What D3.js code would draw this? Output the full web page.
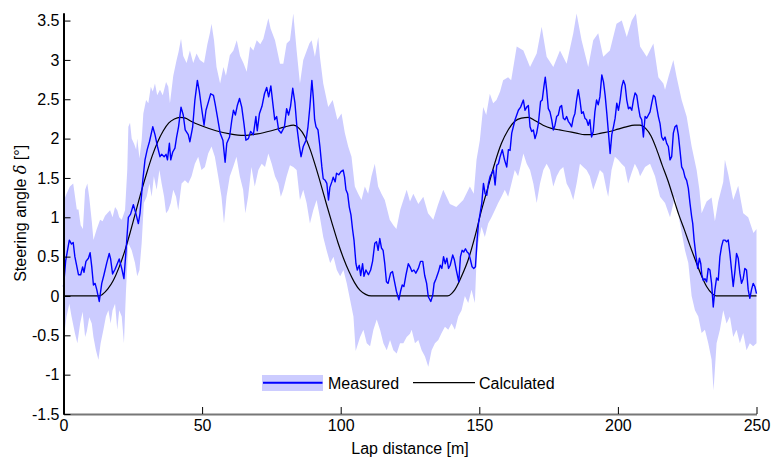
<!DOCTYPE html>
<html>
<head>
<meta charset="utf-8">
<script src="https://cdn.jsdelivr.net/npm/d3@7"></script>
<style>
  body { margin: 0; background: #fff; }
  svg text { font-family: "Liberation Sans", Arial, sans-serif; font-size: 16px; fill: #000; }
</style>
</head>
<body>
<div class="chart"></div>
<script>
// lap distance [m], steering angle [deg]
var measured = [[0,0.12],[0.8,0.45],[2.1,0.71],[2.9,0.66],[3.5,0.68],[4.1,0.5],[5.4,0.27],[6.2,0.27],[6.9,0.37],[7.4,0.3],
  [8.1,0.44],[9,0.48],[9.6,0.55],[10.2,0.37],[10.8,0.14],[11.4,0.16],[12,0.08],[12.9,-0.07],[13.8,0.16],[14.6,0.27],
  [15.6,0.42],[16.5,0.54],[17,0.47],[17.7,0.28],[18.6,0.34],[20.1,0.47],[21,0.35],[21.8,0.22],[22.5,0.55],[23.4,1.0],
  [24.2,1.04],[25.2,1.16],[26.1,1.05],[27,0.92],[27.6,1.05],[28.6,1.47],[29.4,1.73],[30.2,1.86],[31,1.96],[32.2,2.15],
  [33,2.05],[33.9,1.9],[34.8,1.77],[35.4,1.8],[36.3,1.77],[37,1.8],[37.5,1.73],[38.2,1.94],[38.7,1.73],[39.4,1.83],
  [40.2,1.88],[40.8,2.02],[41.5,2.15],[42.4,2.4],[43.2,2.3],[43.9,2.11],[45,2.05],[45.6,1.96],[46.6,2.15],[47.4,2.49],
  [48.3,2.74],[49,2.6],[49.6,2.44],[50.7,2.17],[51.4,2.36],[52.3,2.47],[53.1,2.57],[54.1,2.55],[54.7,2.44],[55.5,2.28],
  [56.5,2.07],[57.5,1.98],[58.3,1.7],[58.9,1.94],[59.9,2.02],[60.7,2.23],[61.3,2.36],[62,2.3],[62.7,2.42],[63.5,2.51],
  [64.3,2.4],[65.1,2.19],[65.8,1.98],[66.7,2.0],[67.5,2.09],[68.5,2.05],[69.4,2.28],[69.9,2.1],[70.7,2.32],[71.6,2.41],
  [72.5,2.57],[73.3,2.65],[74,2.53],[74.8,2.67],[75.5,2.45],[76.2,2.24],[76.9,2.28],[77.6,2.11],[78.5,2.07],[79.7,2.15],
  [80.5,2.38],[81.2,2.3],[81.9,2.41],[82.7,2.64],[83.5,2.45],[84.2,2.15],[85.1,1.9],[85.7,1.77],[86.5,1.9],[87.5,1.98],
  [88.2,2.15],[88.9,2.41],[89.6,2.74],[90.1,2.53],[90.6,2.24],[91.1,2.15],[91.8,2.11],[92.5,1.9],[93.2,1.64],[93.7,1.49],
  [94.4,1.47],[95,1.43],[95.6,1.22],[96.1,1.38],[96.8,1.45],[97.3,1.51],[98,1.45],[98.5,1.56],[99.3,1.54],[100.1,1.58],
  [100.9,1.6],[101.4,1.51],[101.9,1.35],[102.5,1.3],[103.1,1.13],[103.7,1.03],[104.3,0.84],[104.8,0.71],[105.5,0.41],[106,0.33],
  [106.7,0.39],[107.2,0.26],[107.9,0.41],[108.4,0.25],[109.1,0.33],[110,0.27],[110.8,0.33],[111.5,0.44],[112.3,0.67],[112.9,0.69],
  [113.5,0.58],[114.1,0.73],[114.7,0.61],[115.3,0.58],[115.9,0.41],[116.5,0.18],[117.1,0.16],[118,0.29],[118.7,0.31],[119.3,0.2],
  [120.1,0.06],[121,-0.05],[121.6,0.06],[122.2,0.14],[122.8,0.12],[123.5,0.26],[124.4,0.41],[125,0.37],[125.7,0.31],[126.4,0.33],
  [127.1,0.29],[128,0.35],[128.8,0.44],[129.6,0.44],[130.3,0.26],[131,0.16],[131.6,-0.01],[132.5,-0.07],[133.2,0.01],[133.7,0.16],
  [134.4,0.22],[135.3,0.31],[135.9,0.39],[136.5,0.35],[137.1,0.5],[137.7,0.41],[138.3,0.48],[138.9,0.35],[139.5,0.39],[140.4,0.52],
  [141,0.46],[141.7,0.33],[142.6,0.18],[143.2,0.5],[143.8,0.58],[144.4,0.56],[145,0.6],[145.6,0.56],[146.2,0.54],[146.8,0.46],
  [147.4,0.37],[148,0.35],[148.6,0.37],[149.2,0.71],[149.7,0.92],[150.3,1.05],[150.9,1.18],[151.5,1.43],[152.1,1.3],[152.7,1.28],
  [153.3,1.43],[153.9,1.52],[154.5,1.56],[155.1,1.6],[155.7,1.41],[156.3,1.66],[156.9,1.68],[157.5,1.77],[158.3,1.86],[159.1,1.73],
  [159.9,1.64],[160.5,1.86],[161.1,1.85],[161.7,2.07],[162.9,2.24],[164.1,2.36],[164.9,2.4],[165.9,2.49],[166.5,2.36],[167.1,2.4],
  [167.7,2.42],[168.3,2.15],[168.9,2.09],[169.5,2.11],[170.1,2.0],[170.7,2.07],[171.3,2.19],[172.1,2.47],[172.7,2.49],[173.3,2.66],
  [173.8,2.78],[174.3,2.62],[174.9,2.38],[175.5,2.34],[176.1,2.24],[176.7,2.11],[177.3,2.17],[177.9,2.28],[178.5,2.3],[179.1,2.4],
  [179.7,2.42],[180.3,2.26],[180.9,2.24],[181.5,2.28],[182.1,2.22],[182.7,2.19],[183.3,2.15],[183.9,2.26],[184.5,2.32],[185.1,2.49],
  [185.7,2.62],[186.3,2.49],[186.9,2.32],[187.5,2.34],[188.1,2.26],[188.7,2.24],[189.3,2.17],[189.9,2.24],[190.5,2.02],[191.1,2.09],
  [191.7,2.34],[192.3,2.49],[192.9,2.43],[193.5,2.53],[194.2,2.81],[194.8,2.72],[195.4,2.55],[196,2.32],[196.6,2.07],[197.2,1.81],
  [197.8,2.05],[198.4,2.15],[199,2.26],[199.6,2.45],[200.2,2.36],[200.8,2.49],[201.4,2.66],[202,2.74],[202.6,2.68],[203.2,2.49],
  [203.8,2.38],[204.4,2.4],[205,2.36],[205.6,2.49],[206.2,2.58],[206.8,2.55],[207.4,2.4],[208,2.28],[208.6,2.24],[209.2,2.02],
  [209.8,2.28],[210.4,2.26],[211,2.3],[211.6,2.34],[212.2,2.45],[212.8,2.55],[213.4,2.53],[214,2.4],[214.6,2.28],[215.2,2.19],
  [215.8,2.02],[216.4,1.98],[217,2.02],[217.6,1.94],[218.2,1.9],[218.8,1.73],[219.4,1.77],[220,2.07],[220.6,2.15],[221.2,2.17],
  [221.8,2.05],[222.4,1.85],[223,1.64],[223.6,1.6],[224.2,1.51],[224.8,1.47],[225.4,1.37],[226,1.18],[226.6,1.01],[227,0.92],
  [227.5,0.71],[228.2,0.5],[228.8,0.35],[229.4,0.48],[229.9,0.41],[230.3,0.26],[230.8,0.2],[231.4,0.22],[232,0.18],[232.6,0.35],
  [233.2,0.33],[233.8,0.16],[234.4,-0.14],[235,0.08],[235.6,0.23],[236.2,0.2],[236.8,0.5],[237.4,0.63],[238,0.71],[238.6,0.71],
  [239.2,0.69],[239.8,0.71],[240.4,0.54],[241,0.33],[241.6,0.12],[242.2,0.31],[242.8,0.54],[243.4,0.48],[244,0.29],[244.6,0.16],
  [245.2,0.22],[245.8,0.35],[246.4,0.33],[247,0.08],[247.6,-0.03],[248.2,0.08],[248.8,0.16],[249.4,0.12],[250,0.03]];

var bandUpper = [[0,1.2],[1.1,1.3],[2.3,1.39],[3.5,1.43],[4.8,1.1],[5.4,1.1],[6.2,0.9],[7,0.85],[7.8,1.35],[8.6,1.43],
  [9.3,1.25],[10.2,0.95],[10.8,0.71],[12,0.85],[13.2,0.97],[14.1,0.95],[15,1.02],[15.8,1.05],[16.8,1.09],[17.7,1.0],
  [18.6,1.13],[19.4,1.09],[20.1,1.0],[21,0.97],[22.2,1.09],[23,1.6],[23.4,2.15],[24,2.2],[24.6,2.0],[25.5,1.93],
  [26.2,1.86],[26.6,2.0],[27.4,1.75],[28.2,1.98],[28.8,2.32],[29.8,2.49],[30.6,2.45],[31.5,2.66],[32.2,2.6],[33,2.7],
  [33.8,2.55],[34.8,2.62],[35.8,2.55],[37,2.72],[37.8,2.66],[38.4,2.45],[39.6,2.8],[40.8,3.0],[41.5,3.1],[42.4,3.27],
  [43.2,3.05],[44.4,2.96],[45.6,3.12],[46.8,2.96],[48,3.08],[49.2,3.0],[50.7,2.96],[51.9,3.2],[52.8,3.34],[53.4,3.46],
  [54.3,3.25],[55.2,2.91],[56.5,2.7],[57.7,2.91],[58.6,2.8],[60,3.06],[61.3,3.12],[62.5,3.25],[63.7,3.05],[64.9,2.96],
  [66.1,2.85],[67.3,3.17],[68.5,3.12],[69.7,3.25],[71,3.2],[72.1,3.27],[73.9,3.53],[74.7,3.4],[76.3,3.25],[78.1,2.95],
  [79.3,2.95],[80.5,3.21],[81.7,3.25],[82.9,3.59],[84.1,3.12],[85.3,2.7],[86.5,3.0],[88.7,3.21],[89.5,3.25],[90.7,3.04],
  [91.9,3.29],[92.5,3.04],[93.7,2.7],[95.5,2.4],[97.1,2.49],[98.8,2.24],[100.3,2.32],[101.5,2.07],[102.7,1.9],[103.9,1.77],
  [105.1,1.39],[106.3,1.3],[107.5,1.22],[108.7,1.39],[109.9,1.3],[111.1,1.52],[112.3,1.68],[113.5,1.39],[114.7,1.3],[115.9,1.22],
  [117.7,0.97],[119,0.9],[120.1,0.85],[121.5,1.1],[123.8,1.35],[125,1.2],[126.2,1.3],[128,1.17],[129.8,1.26],[131.5,1.05],
  [133.4,0.97],[135,1.15],[137,1.35],[139.4,1.17],[141.7,1.13],[144.2,1.22],[146.6,1.39],[148,1.3],[149,1.73],[150.2,1.98],
  [151.4,2.4],[152.5,2.3],[153.8,2.57],[155,2.45],[156.2,2.49],[157.5,2.6],[158.6,2.74],[160.4,2.78],[161.5,2.74],[163.5,3.17],
  [165.9,3.12],[168.3,2.91],[170.7,3.08],[172.5,3.42],[174.3,3.04],[176.7,2.91],[179.1,3.12],[181.5,2.95],[183.9,3.34],[185.1,3.59],
  [186.9,3.25],[189.3,2.91],[191.1,3.25],[192.9,3.34],[194.7,3.04],[197.1,3.12],[199.5,3.46],[201.4,3.5],[203.2,3.29],[205,3.5],
  [206.5,3.59],[208,3.17],[210.4,3.04],[212.8,3.21],[214.6,2.78],[216.4,2.7],[217,2.62],[218.2,2.78],[220,3.0],[221.2,2.78],
  [223,2.49],[224.8,2.28],[226.6,1.9],[228.4,1.6],[229.4,1.35],[230.2,1.05],[232,1.2],[233.8,1.25],[235,0.95],[236.2,1.2],
  [238,1.45],[238.6,1.73],[239.8,1.55],[241.6,1.22],[243.4,1.4],[245.2,1.05],[247,1.0],[248.9,0.8],[250,0.85]];

var bandLower = [[0,-0.56],[1.1,-0.26],[2.1,-0.1],[2.9,-0.26],[4.1,-0.47],[5,-0.6],[6,-0.35],[6.9,-0.2],[7.8,-0.52],[8.4,-0.45],
  [9.3,-0.27],[10.2,-0.35],[10.8,-0.52],[11.7,-0.69],[12.6,-0.81],[13.4,-0.6],[14.4,-0.43],[15.3,-0.26],[16.2,-0.18],[17,-0.35],
  [17.7,-0.18],[18.6,-0.1],[19.4,-0.43],[20.1,-0.18],[21,-0.26],[21.8,-0.6],[22.5,0.03],[23.4,0.67],[24.6,0.58],[25.8,0.42],
  [26.6,0.25],[27.4,0.33],[28.2,0.67],[29,1.18],[30,1.26],[31,1.43],[31.8,1.26],[32.6,1.52],[33.6,1.35],[34.6,1.6],
  [35.4,1.43],[36.3,1.26],[37,1.05],[37.8,1.09],[38.7,1.18],[39.6,1.35],[40.6,1.26],[41.4,1.09],[42.6,1.43],[43.8,1.47],
  [45,1.43],[46.2,1.52],[47.4,1.68],[48.6,1.77],[49.8,1.6],[51,1.64],[52.2,1.81],[53.4,1.9],[54.6,1.77],[55.8,1.52],
  [57,1.26],[57.9,0.92],[58.8,1.26],[60,1.52],[61.2,1.64],[62.4,1.77],[63.6,1.52],[64.8,1.35],[65.6,1.05],[66.6,1.26],
  [67.8,1.64],[69,1.39],[70.3,1.6],[71.5,1.68],[72.7,1.64],[73.9,1.81],[75.1,1.68],[76.3,1.52],[77.5,1.43],[78.4,1.26],
  [79.3,1.35],[80.5,1.52],[81.7,1.66],[82.9,1.64],[84.1,1.6],[85.3,1.22],[86.5,1.35],[87.7,1.18],[88.9,0.92],[90.1,1.09],
  [91.3,1.22],[92.5,1.0],[93.7,0.75],[94.9,0.58],[96.2,0.42],[97.4,0.5],[98.6,0.33],[99.8,0.25],[101,0.33],[102.2,0.16],
  [103.4,-0.05],[104.6,-0.26],[105.4,-0.7],[107,-0.52],[108.2,-0.43],[109.4,-0.6],[110.6,-0.64],[111.8,-0.43],[113,-0.3],[114.2,-0.43],
  [115.4,-0.6],[116.6,-0.69],[117.8,-0.56],[119,-0.69],[120.2,-0.73],[121.4,-0.6],[122.6,-0.6],[123.8,-0.52],[125,-0.48],[125.6,-0.43],
  [126.8,-0.6],[128,-0.56],[129.2,-0.69],[130.4,-0.77],[131.6,-0.9],[132.8,-0.69],[134,-0.6],[135.2,-0.56],[136.4,-0.47],[137.6,-0.39],
  [138.8,-0.43],[140,-0.35],[141.2,-0.43],[142.4,-0.26],[143.6,-0.18],[144.8,0],[146,-0.09],[147.2,0.08],[148.4,-0.09],[149,0.45],
  [149.6,0.67],[150.8,0.88],[152,0.75],[153.2,0.92],[154.4,1.0],[155.6,1.09],[156.8,1.18],[158,1.26],[159.2,1.35],[160.4,1.26],
  [161.6,1.43],[162.8,1.6],[164,1.52],[165.2,1.7],[165.9,1.81],[167.1,1.68],[168.3,1.6],[169.5,1.43],[170.7,1.18],[171.9,1.43],
  [173.1,1.6],[174.3,1.68],[175.5,1.6],[176.7,1.39],[177.9,1.52],[179.1,1.6],[180.3,1.64],[181.5,1.43],[182.7,1.35],[183.9,1.22],
  [185.1,1.43],[186.3,1.68],[187.5,1.64],[188.7,1.6],[189.9,1.52],[191.1,1.35],[192.3,1.47],[193.5,1.6],[194.7,1.56],[195.9,1.35],
  [196.5,1.26],[197.7,1.6],[198.9,1.77],[200.1,1.73],[201.3,1.68],[202.5,1.64],[203.7,1.43],[204.9,1.56],[206.1,1.68],[207.3,1.6],
  [208,1.52],[209.8,1.64],[211.6,1.68],[213.4,1.52],[215.2,1.26],[217,1.18],[218.8,1.0],[220.6,1.26],[222.4,0.92],[224.2,0.58],
  [225.4,0.42],[226.6,0.0],[227.8,-0.18],[229,-0.26],[230.2,-0.47],[231.4,-0.43],[232.6,-0.6],[233.8,-0.81],[234.5,-1.2],[235.6,-0.6],
  [236.8,-0.43],[238,-0.18],[239.2,-0.35],[240.4,-0.26],[241.6,-0.52],[242.8,-0.43],[244,-0.6],[245.2,-0.47],[246.4,-0.69],[247.6,-0.6],
  [248.8,-0.64],[250,-0.6]];

var calculated = [[0,0],[13,0],[14,0.02],[16,0.09],[18,0.2],[20,0.36],[22,0.56],[24,0.8],[26,1.06],[28,1.32],
  [30,1.56],[32,1.78],[34,1.96],[36,2.1],[38,2.2],[40,2.25],[42,2.27],[44,2.26],[46,2.22],[50,2.16],
  [55,2.1],[60,2.06],[65,2.04],[70,2.06],[75,2.1],[80,2.15],[83,2.17],[85,2.13],[87,2.03],[89,1.86],
  [91,1.64],[93,1.4],[95,1.15],[97,0.91],[99,0.68],[101,0.48],[103,0.31],[105,0.17],[107,0.07],[109,0.02],
  [111,0],[138.5,0],[140,0.03],[141.2,0.08],[143.6,0.25],[146,0.46],[148.4,0.75],[150.8,1.09],[153.2,1.39],[155.6,1.69],
  [158,1.94],[160.4,2.11],[162.8,2.22],[165.2,2.26],[167.7,2.27],[170,2.23],[173,2.17],[176,2.13],[179,2.11],[182,2.09],
  [185,2.07],[188,2.05],[191,2.05],[194,2.07],[197,2.09],[200,2.12],[203,2.15],[206,2.17],[208,2.17],[210,2.13],
  [212,2.03],[214,1.86],[216,1.66],[218,1.47],[220,1.25],[222,1.03],[224,0.84],[226,0.64],[228,0.45],[230,0.27],
  [232,0.12],[234,0.03],[235.5,0],[250,0]];

var xTicks = [0, 50, 100, 150, 200, 250];
var yTicks = [-1.5, -1, -0.5, 0, 0.5, 1, 1.5, 2, 2.5, 3, 3.5];

var fullWidth = 771,
    fullHeight = 460;

var xScale = d3.scaleLinear()
  .domain([0, 250])
  .range([63.5, 756.5]);

var yScale = d3.scaleLinear()
  .domain([-1.5, 3.6])
  .range([414, 12.7]);

var svg = d3.select(".chart").append("svg")
  .attr("width", fullWidth)
  .attr("height", fullHeight);

var line = d3.line()
  .x(function(d) { return xScale(d[0]); })
  .y(function(d) { return yScale(d[1]); });

// shaded band: upper edge forward, lower edge back
svg.append("path")
  .datum(bandUpper.concat(bandLower.slice().reverse()))
  .attr("fill", "#ccccff")
  .attr("stroke", "none")
  .attr("d", function(d) { return line(d) + "Z"; });

svg.append("path")
  .datum(calculated)
  .attr("fill", "none")
  .attr("stroke", "#000")
  .attr("stroke-width", 1.2)
  .attr("d", line.curve(d3.curveMonotoneX));

line.curve(d3.curveLinear);

svg.append("path")
  .datum(measured)
  .attr("fill", "none")
  .attr("stroke", "#0000ff")
  .attr("stroke-width", 1.4)
  .attr("stroke-linejoin", "round")
  .attr("d", line);

// axes
var xAxis = svg.append("g")
  .attr("transform", "translate(0," + yScale(-1.5) + ")")
  .call(d3.axisBottom(xScale)
    .tickValues(xTicks)
    .tickSize(-7)
    .tickSizeOuter(0)
    .tickPadding(6)
    .tickFormat(function(d) { return String(d); }));

xAxis.select(".domain").attr("stroke", "#777").attr("stroke-width", 2);
xAxis.selectAll(".tick line").attr("stroke", "#000");
xAxis.selectAll("text").style("font-size", "16px");

var yAxis = svg.append("g")
  .attr("transform", "translate(" + xScale(0) + ",0)")
  .call(d3.axisLeft(yScale)
    .tickValues(yTicks)
    .tickSize(-7)
    .tickSizeOuter(0)
    .tickPadding(4)
    .tickFormat(function(d) { return String(d); }));

yAxis.select(".domain").attr("stroke", "#000").attr("stroke-width", 2);
yAxis.selectAll("text").style("font-size", "16px");
svg.selectAll(".tick text").style("font-family", "'Liberation Sans', Arial, sans-serif");

// axis titles
svg.append("text")
  .attr("x", (xScale(0) + xScale(250)) / 2)
  .attr("y", 454)
  .attr("text-anchor", "middle")
  .text("Lap distance [m]");

var yTitle = svg.append("text")
  .attr("transform", "translate(25.5," + (yScale(-1.5) + yScale(3.6)) / 2 + ") rotate(-90)")
  .attr("text-anchor", "middle");
yTitle.append("tspan").text("Steering angle ");
yTitle.append("tspan")
  .style("font-family", "'DejaVu Serif', 'Liberation Serif', serif")
  .style("font-style", "italic")
  .text("\u03b4");
yTitle.append("tspan").text(" [\u00b0]");

// legend
var legend = svg.append("g");
legend.append("rect")
  .attr("x", 262).attr("y", 375)
  .attr("width", 61).attr("height", 16)
  .attr("fill", "#ccccff");
legend.append("line")
  .attr("x1", 263).attr("x2", 322.5)
  .attr("y1", 382.7).attr("y2", 382.7)
  .attr("stroke", "#0000ff").attr("stroke-width", 2);
legend.append("text")
  .attr("x", 328).attr("y", 389)
  .text("Measured");
legend.append("line")
  .attr("x1", 413).attr("x2", 475)
  .attr("y1", 382.7).attr("y2", 382.7)
  .attr("stroke", "#000").attr("stroke-width", 1.2);
legend.append("text")
  .attr("x", 479).attr("y", 389)
  .text("Calculated");
</script>
</body>
</html>
